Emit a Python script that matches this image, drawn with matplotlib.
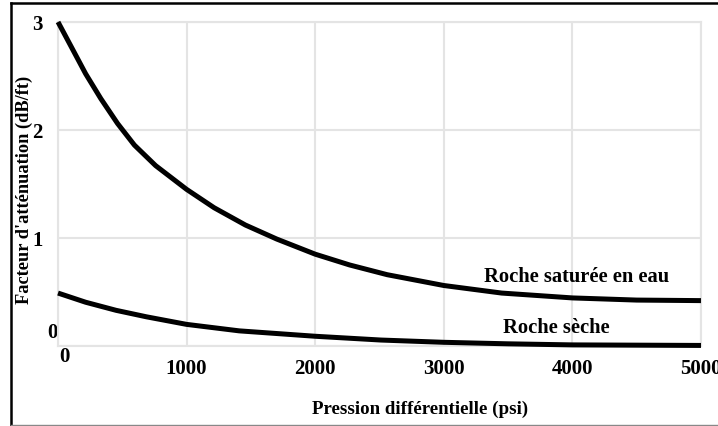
import matplotlib
matplotlib.use('Agg')
import matplotlib.pyplot as plt
import matplotlib.transforms as mtransforms
from matplotlib.lines import Line2D

plt.rcParams['font.family'] = ['Liberation Serif', 'DejaVu Serif']
plt.rcParams['font.weight'] = 'bold'

# pressure (psi) / attenuation (dB/ft)
sat_psi = [0, 121, 215, 333, 463, 594, 759, 1000, 1214, 1457, 1701, 2000, 2268, 2560, 3000, 3450, 4000, 4500, 5000]
sat_att = [3.00, 2.73, 2.52, 2.29, 2.06, 1.86, 1.67, 1.45, 1.28, 1.12, 0.99, 0.85, 0.75, 0.66, 0.56, 0.49, 0.445, 0.425, 0.42]

dry_psi = [0, 215, 452, 688, 1000, 1409, 2000, 2511, 3000, 3500, 4000, 5000]
dry_att = [0.49, 0.405, 0.33, 0.27, 0.20, 0.14, 0.09, 0.055, 0.034, 0.02, 0.01, 0.005]

x_ticks = [0, 1000, 2000, 3000, 4000, 5000]
y_ticks = [0, 1, 2, 3]

grid_col = '#e4e4e4'

fig = plt.figure(figsize=(7.18, 4.27), dpi=100)
ax = fig.add_axes([0.0808, 0.1874, 0.8955, 0.7588])

for xs, ys in [(sat_psi, sat_att), (dry_psi, dry_att)]:
    ax.plot(xs, ys, color='black', lw=3.6, solid_capstyle='butt',
            solid_joinstyle='round', clip_on=False, zorder=3)

ax.set_xlim(0, 5000)
ax.set_ylim(0, 3)
ax.set_xticks(x_ticks)
ax.set_yticks(y_ticks)
ax.grid(True, color=grid_col, lw=1.5)
ax.set_axisbelow(True)
for sp in ax.spines.values():
    sp.set_color(grid_col)
    sp.set_linewidth(1.5)
ax.tick_params(length=0, labelsize=15)
ax.tick_params(axis='x', pad=9)
ax.tick_params(axis='y', pad=11)

# the zero labels sit a little off the origin
dpi_tr = fig.dpi_scale_trans
ax.get_yticklabels()[0].set_transform(ax.get_yaxis_transform(which='tick1')
                                      + mtransforms.ScaledTranslation(0, 0.16, dpi_tr))
ax.get_xticklabels()[0].set_transform(ax.get_xaxis_transform(which='tick1')
                                      + mtransforms.ScaledTranslation(0.06, 0, dpi_tr))

ax.set_xlabel('Pression différentielle (psi)', fontsize=13.6, fontweight='bold')
ax.xaxis.set_label_coords(0.563, -0.167)
ax.set_ylabel("Facteur d'atténuation (dB/ft)", fontsize=13.2, fontweight='bold', va='center')
ax.yaxis.set_label_coords(-0.053, 0.485)

ax.text(4036, 0.648, 'Roche saturée en eau', fontsize=14.8, fontweight='bold', ha='center', va='center')
ax.text(3873, 0.176, 'Roche sèche', fontsize=14.8, fontweight='bold', ha='center', va='center')

# frame around the whole figure
W, H = 718, 427
fig.add_artist(Line2D([11 / W, 11 / W], [1 - 4 / H, 1 - 425.5 / H], color='black', lw=1.8))
fig.add_artist(Line2D([11 / W, 1], [1 - 4 / H, 1 - 4 / H], color='black', lw=1.8))
fig.add_artist(Line2D([11 / W, 1], [1 - 425.5 / H, 1 - 425.5 / H], color='#888888', lw=1))

fig.savefig('out.png', dpi=100)
